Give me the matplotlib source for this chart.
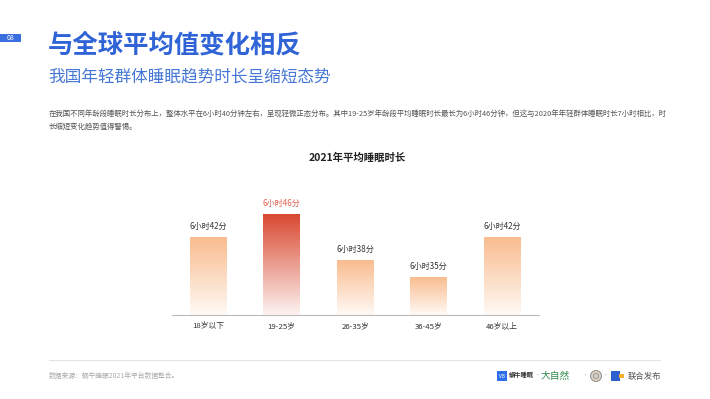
import matplotlib.pyplot as plt
import numpy as np
from matplotlib.colors import LinearSegmentedColormap
from matplotlib.patches import Rectangle, Ellipse

plt.rcParams['font.family'] = ['Noto Sans CJK SC', 'DejaVu Sans']

# data (minutes of sleep)
groups = ['18岁以下', '19-25岁', '26-35岁', '36-45岁', '46岁以上']
minutes = [402, 406, 398, 395, 402]
labels = ['6小时42分', '6小时46分', '6小时38分', '6小时35分', '6小时42分']
highlight = 1

W, H = 710, 399
fig = plt.figure(figsize=(W / 100, H / 100), dpi=100)
fig.patch.set_facecolor('white')


def fx(px):
    return px / W


def fy(py):
    return 1 - py / H


blue = '#2f63d6'

# page header
fig.patches.append(Rectangle((0, fy(42)), fx(21), 8 / H, transform=fig.transFigure,
                             color='#3b6fe0', lw=0))
fig.text(fx(11), fy(38), '08', color='white', fontsize=5, ha='center', va='center')
fig.text(fx(48), fy(45), '与全球平均值变化相反', color=blue, fontsize=18.3,
         fontweight='bold', ha='left', va='center')
fig.text(fx(48), fy(77), '我国年轻群体睡眠趋势时长呈缩短态势', color='#4677d4', fontsize=12,
         ha='left', va='center')
fig.text(fx(49), fy(114), '在我国不同年龄段睡眠时长分布上，整体水平在6小时40分钟左右，呈现轻微正态分布。'
         '其中19-25岁年龄段平均睡眠时长最长为6小时46分钟，但这与2020年年轻群体睡眠时长7小时相比，时',
         color='#555555', fontsize=5.35, ha='left', va='center')
fig.text(fx(49), fy(127), '长缩短变化趋势值得警惕。', color='#555555', fontsize=5.35,
         ha='left', va='center')

# chart
ax = fig.add_axes([fx(172), fy(315), fx(539) - fx(172), (315 - 190) / H])
x = np.arange(len(groups))
bw = 0.5
ybase = 388.4

orange = LinearSegmentedColormap.from_list('o', ['#fffaf6', '#f9bb8d'])
red = LinearSegmentedColormap.from_list('r', ['#fdf3f1', '#d9472f'])
grad = np.linspace(0, 1, 256).reshape(-1, 1)

for i, (xi, v) in enumerate(zip(x, minutes)):
    bar = ax.bar(xi, v - ybase, bw, bottom=ybase, color='none', lw=0)[0]
    cmap = red if i == highlight else orange
    im = ax.imshow(grad, cmap=cmap, origin='lower', aspect='auto',
                   extent=[xi - bw / 2, xi + bw / 2, ybase, v], zorder=2)
    im.set_clip_path(bar)
    ax.text(xi, v + 1.0, labels[i], ha='center', va='bottom', fontsize=5.8,
            color='#e0604c' if i == highlight else '#333333')

ax.set_xlim(-0.49, 4.5)
ax.set_ylim(388.4, 410.1)
ax.set_xticks(x)
ax.set_xticklabels(groups, fontsize=5.6, color='#333333')
ax.tick_params(axis='x', length=0, pad=5)
ax.set_yticks([])
for s in ['top', 'right', 'left']:
    ax.spines[s].set_visible(False)
ax.spines['bottom'].set_color('#bbbbbb')
ax.spines['bottom'].set_linewidth(0.8)
ax.patch.set_alpha(0)

fig.text(fx(357), fy(158), '2021年平均睡眠时长', fontsize=7.5, fontweight='bold',
         color='#222222', ha='center', va='center')

# footer
fig.add_artist(plt.Line2D([fx(49), fx(660)], [fy(360), fy(360)], color='#e3e3e3', lw=0.8))
fig.text(fx(49), fy(376), '数据来源：蜗牛睡眠2021年平台数据整合。', color='#aaaaaa', fontsize=4.9,
         ha='left', va='center')
fig.patches.append(Rectangle((fx(497), fy(381)), fx(10), 10 / H, transform=fig.transFigure,
                             color='#2c6fe8', lw=0))
fig.text(fx(502), fy(376), 'VB', color='white', fontsize=3.5, ha='center', va='center')
fig.text(fx(509), fy(375), '蜗牛睡眠', color='#333333', fontsize=4.5, fontweight='bold',
         ha='left', va='center')
fig.text(fx(538), fy(376), '·', color='#aaaaaa', fontsize=4, ha='center', va='center')
fig.text(fx(541), fy(376), '大自然', color='#2f8a4a', fontsize=7,
         ha='left', va='center')
fig.text(fx(586), fy(376), '·', color='#aaaaaa', fontsize=4, ha='center', va='center')
fig.patches.append(Ellipse((fx(596), fy(376)), 11 / W, 11 / H, transform=fig.transFigure,
                           facecolor='#d9d0c8', edgecolor='#8a7f78', lw=0.6))
fig.patches.append(Ellipse((fx(596), fy(376)), 5 / W, 5 / H, transform=fig.transFigure,
                           facecolor='none', edgecolor='#8a7f78', lw=0.5))
fig.text(fx(606), fy(376), '·', color='#aaaaaa', fontsize=4, ha='center', va='center')
fig.patches.append(Rectangle((fx(611), fy(381)), fx(9), 10 / H, transform=fig.transFigure,
                             color='#2d5fd0', lw=0))
fig.patches.append(Rectangle((fx(619), fy(378)), fx(5), 4 / H, transform=fig.transFigure,
                             color='#f0b030', lw=0))
fig.text(fx(628), fy(376), '联合发布', color='#555555', fontsize=6, ha='left', va='center')

fig.savefig('out.png', dpi=100)
